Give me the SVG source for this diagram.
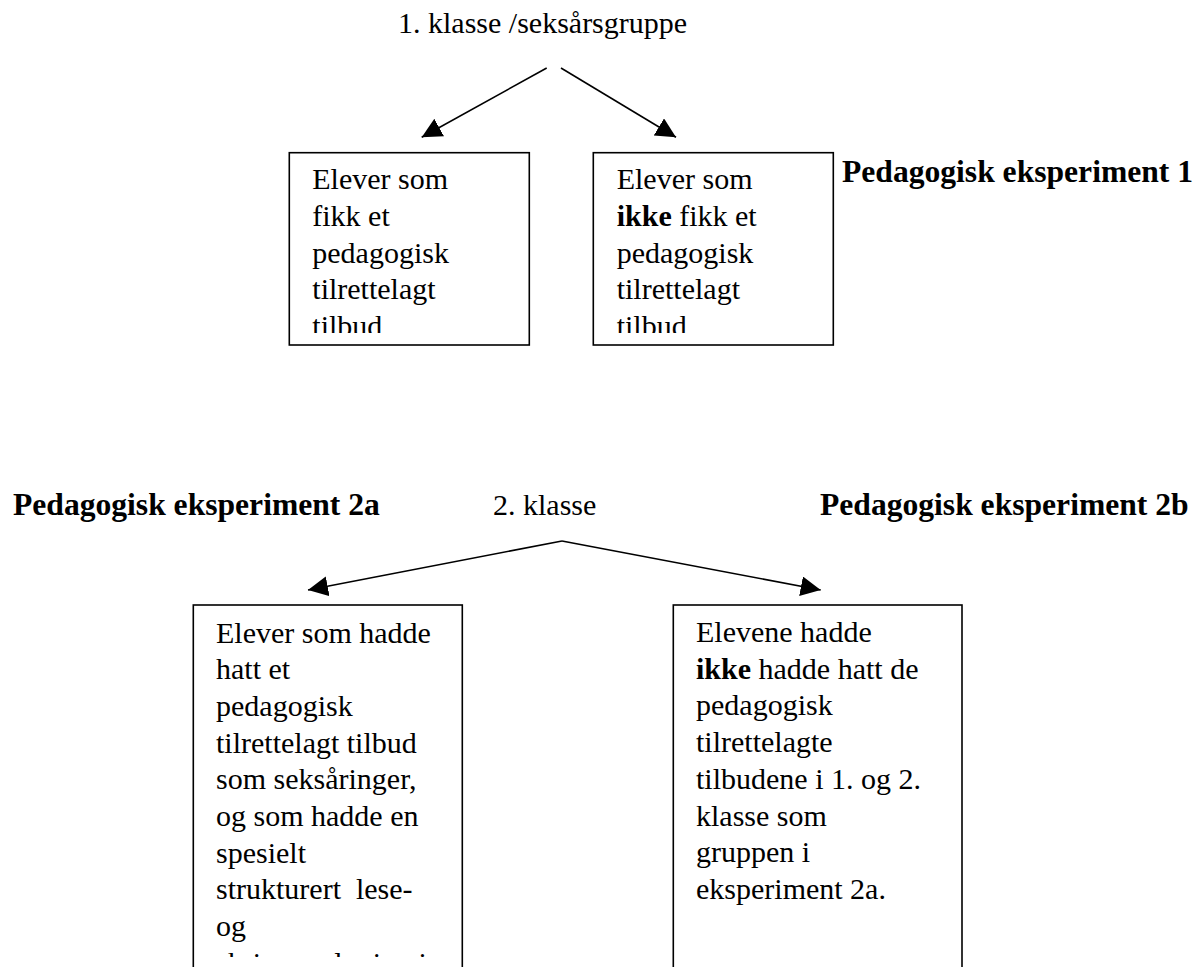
<svg xmlns="http://www.w3.org/2000/svg" width="1204" height="967" viewBox="0 0 1204 967">
<style>
  .t { font-family: "Liberation Serif", "Times New Roman", serif; font-size: 30px; fill: #000; }
  .b { font-family: "Liberation Serif", "Times New Roman", serif; font-size: 31.6px; font-weight: bold; fill: #000; }
  .ib { font-weight: bold; }
  .box { fill: #fff; stroke: #000; stroke-width: 1.6; }
  .edge { stroke: #000; stroke-width: 1.6; fill: none; marker-end: url(#arr); }
</style>
<defs>
  <marker id="arr" markerUnits="userSpaceOnUse" markerWidth="22" markerHeight="22" refX="20" refY="10" orient="auto">
    <path d="M0,0 L20,10 L0,20 Z" fill="#000"/>
  </marker>
  <clipPath id="c1"><rect x="289" y="153" width="241" height="180"/></clipPath>
  <clipPath id="c2"><rect x="593" y="153" width="241" height="180"/></clipPath>
  <clipPath id="c3"><rect x="193" y="605" width="270" height="352"/></clipPath>
  <clipPath id="c4"><rect x="673" y="605" width="290" height="352"/></clipPath>
</defs>
<rect width="1204" height="967" fill="#fff"/>

<g id="labels">
  <text class="t" x="398" y="33">1. klasse /seksårsgruppe</text>
  <text class="b" x="842" y="182">Pedagogisk eksperiment 1</text>
  <text class="b" x="13" y="515">Pedagogisk eksperiment 2a</text>
  <text class="t" x="493" y="515">2. klasse</text>
  <text class="b" x="820" y="515">Pedagogisk eksperiment 2b</text>
</g>

<g id="connectors">
  <line class="edge" x1="546.7" y1="68" x2="421.7" y2="137.3"/>
  <line class="edge" x1="561" y1="68" x2="676" y2="137.3"/>
  <line class="edge" x1="562" y1="541" x2="308" y2="590"/>
  <line class="edge" x1="562" y1="541" x2="820.7" y2="590"/>
</g>

<g id="node-1a">
  <rect class="box" x="289.3" y="152.7" width="240" height="192.3"/>
  <g clip-path="url(#c1)">
    <text class="t" x="312.3" y="189.3">Elever som</text>
    <text class="t" x="312.3" y="226">fikk et</text>
    <text class="t" x="312.3" y="262.7">pedagogisk</text>
    <text class="t" x="312.3" y="299.3">tilrettelagt</text>
    <text class="t" x="312.3" y="336">tilbud</text>
  </g>
</g>

<g id="node-1b">
  <rect class="box" x="593.3" y="152.7" width="240" height="192.3"/>
  <g clip-path="url(#c2)">
    <text class="t" x="616.7" y="189.3">Elever som</text>
    <text class="t" x="616.7" y="226"><tspan class="ib">ikke</tspan> fikk et</text>
    <text class="t" x="616.7" y="262.7">pedagogisk</text>
    <text class="t" x="616.7" y="299.3">tilrettelagt</text>
    <text class="t" x="616.7" y="336">tilbud</text>
  </g>
</g>

<g id="node-2a">
  <rect class="box" x="193.3" y="605" width="269" height="380"/>
  <g clip-path="url(#c3)">
    <text class="t" x="216" y="642.5">Elever som hadde</text>
    <text class="t" x="216" y="679.2">hatt et</text>
    <text class="t" x="216" y="715.9">pedagogisk</text>
    <text class="t" x="216" y="752.6">tilrettelagt tilbud</text>
    <text class="t" x="216" y="789.3">som seksåringer,</text>
    <text class="t" x="216" y="826">og som hadde en</text>
    <text class="t" x="216" y="862.7">spesielt</text>
    <text class="t" x="216" y="899.4" xml:space="preserve">strukturert  lese-</text>
    <text class="t" x="216" y="936.1">og</text>
    <text class="t" x="216" y="972.8">skriveopplæring i</text>
  </g>
</g>

<g id="node-2b">
  <rect class="box" x="673.3" y="605" width="288.7" height="380"/>
  <g clip-path="url(#c4)">
    <text class="t" x="696" y="642">Elevene hadde</text>
    <text class="t" x="696" y="678.7"><tspan class="ib">ikke</tspan> hadde hatt de</text>
    <text class="t" x="696" y="715.4">pedagogisk</text>
    <text class="t" x="696" y="752.1">tilrettelagte</text>
    <text class="t" x="696" y="788.8">tilbudene i 1. og 2.</text>
    <text class="t" x="696" y="825.5">klasse som</text>
    <text class="t" x="696" y="862.2">gruppen i</text>
    <text class="t" x="696" y="898.9">eksperiment 2a.</text>
  </g>
</g>
</svg>
